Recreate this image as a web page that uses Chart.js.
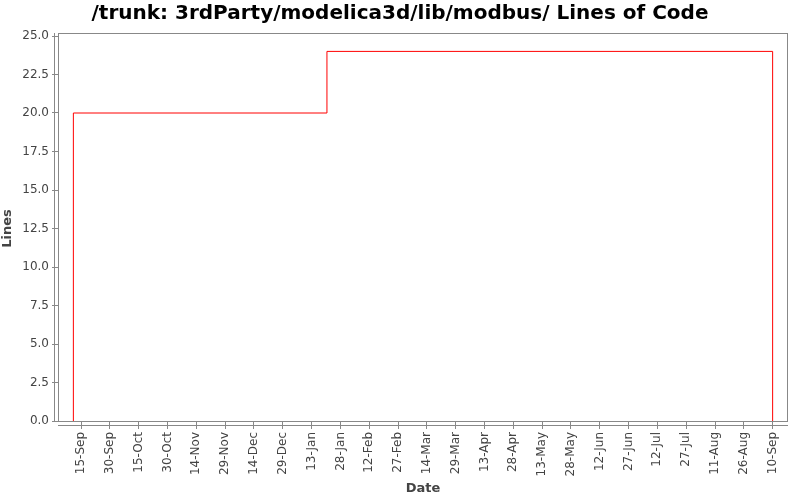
<!DOCTYPE html>
<html><head><meta charset="utf-8">
<script src="https://cdn.jsdelivr.net/npm/chart.js@4"></script>
<style>html,body{margin:0;padding:0;background:#fff}#w{width:800px;height:500px}</style>
</head><body><div id="w"><canvas id="c"></canvas></div>
<script>
const pointDates = ['2012-09-11', '2012-09-11', '2013-01-21', '2013-09-10', '2013-09-10'];
const pointLines = [0, 20, 24, 24, 0];
const tickDates = ['2012-09-15','2012-09-30','2012-10-15','2012-10-30','2012-11-14','2012-11-29','2012-12-14','2012-12-29','2013-01-13','2013-01-28','2013-02-12','2013-02-27','2013-03-14','2013-03-29','2013-04-13','2013-04-28','2013-05-13','2013-05-28','2013-06-12','2013-06-27','2013-07-12','2013-07-27','2013-08-11','2013-08-26','2013-09-10'];
const axisStart = '2012-09-03';
const axisEnd = '2013-09-18';
const months = ['Jan','Feb','Mar','Apr','May','Jun','Jul','Aug','Sep','Oct','Nov','Dec'];

const day = s => Date.UTC(+s.slice(0,4), +s.slice(5,7)-1, +s.slice(8,10)) / 86400000;
const fmt = d => { const dt = new Date(d*86400000); return dt.getUTCDate() + '-' + months[dt.getUTCMonth()]; };

const FONT = "'DejaVu Sans', sans-serif";
const frame = {
  id: 'frame',
  afterDraw(chart) {
    const {ctx, chartArea: a} = chart;
    ctx.save();
    ctx.strokeStyle = '#888';
    ctx.lineWidth = 1;
    ctx.strokeRect(a.left + 0.5, a.top - 2.5, a.right - a.left - 1, a.bottom - a.top + 3);
    ctx.beginPath();
    ctx.moveTo(a.left, a.bottom + 4.5); ctx.lineTo(a.right, a.bottom + 4.5);
    ctx.moveTo(a.left - 3.5, a.top - 3); ctx.lineTo(a.left - 3.5, a.bottom + 1);
    ctx.stroke();
    ctx.restore();
  }
};

new Chart(document.getElementById('c'), {
  type: 'line',
  data: {
    datasets: [{
      data: pointDates.map((d, i) => ({x: day(d), y: pointLines[i]})),
      borderColor: '#ff0000', borderWidth: 1, pointRadius: 0, stepped: 'before', fill: false
    }]
  },
  options: {
    animation: false, responsive: true, maintainAspectRatio: false,
    layout: {padding: 0},
    plugins: {
      legend: {display: false}, tooltip: {enabled: false},
      title: {display: true, text: '/trunk: 3rdParty/modelica3d/lib/modbus/ Lines of Code',
        font: {family: FONT, size: 20, weight: 'bold'}, color: '#000', padding: {top: 2, bottom: 10}}
    },
    scales: {
      x: {
        type: 'linear', min: day(axisStart), max: day(axisEnd),
        afterBuildTicks: s => { s.ticks = tickDates.map(d => ({value: day(d)})); },
        afterFit: s => { s.height = 79; },
        ticks: {callback: v => fmt(v), minRotation: 90, maxRotation: 90, autoSkip: false,
          font: {family: FONT, size: 12}, color: '#444', padding: 3},
        grid: {display: true, drawOnChartArea: false, tickLength: 8, color: '#888', offset: false},
        border: {display: false},
        title: {display: true, text: 'Date', font: {family: FONT, size: 13, weight: 'bold'}, color: '#444', padding: {top: 0, bottom: 4}}
      },
      y: {
        min: 0, max: 25,
        afterBuildTicks: s => { const t = []; for (let i = 0; i <= 10; i++) t.push({value: i * 2.5}); s.ticks = t; },
        afterFit: s => { s.width = 58; },
        ticks: {callback: v => v.toFixed(1), font: {family: FONT, size: 12}, color: '#444', padding: 3},
        grid: {display: true, drawOnChartArea: false, tickLength: 6, color: '#888'},
        border: {display: false},
        title: {display: true, text: 'Lines', font: {family: FONT, size: 13, weight: 'bold'}, color: '#444', padding: {top: 0, bottom: 2}}
      },
      yr: {
        position: 'right', min: 0, max: 25,
        afterFit: s => { s.width = 12; },
        ticks: {display: false}, grid: {display: false}, border: {display: false}
      }
    }
  },
  plugins: [frame]
});
</script></body></html>
